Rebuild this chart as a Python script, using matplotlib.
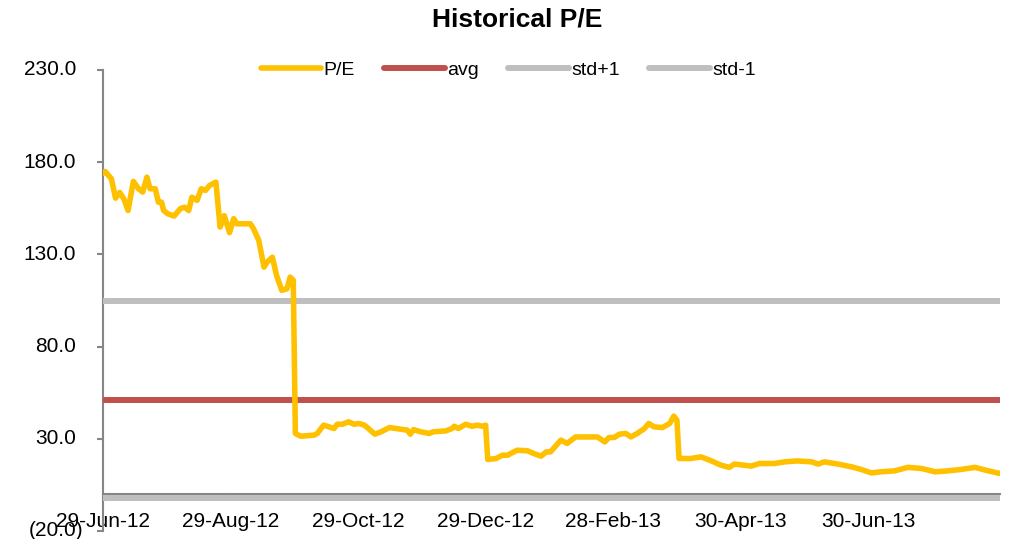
import numpy as np
import pandas as pd
import matplotlib
matplotlib.use("Agg")
import matplotlib.pyplot as plt
import matplotlib.dates as mdates
from matplotlib.transforms import offset_copy

plt.rcParams['font.family'] = ['Liberation Sans', 'DejaVu Sans']

# --- data ---
start_date = "2012-06-29"
end_day = 429

pe_day = [0, 1, 4, 6, 8, 10, 12, 14.5, 17, 19, 21, 22.5, 25, 26.5, 28, 29, 31, 34, 37, 39,
          41, 42.5, 45, 47, 49, 51, 54, 56, 58, 60.5, 62.5, 64, 70.5, 72, 74.5, 77, 78.5, 81,
          83, 85.5, 88, 89.5, 91, 92, 94.5, 101, 102.5, 105.5, 108, 110.5, 112, 114.5, 117.5,
          120, 122.5, 125, 126, 130, 133, 137, 140, 145.5, 147, 148.5, 152, 156, 158, 164,
          167, 168, 170, 173.5, 176.5, 179, 181.5, 183, 184, 188, 191, 193.5, 198, 203, 206,
          209.5, 212, 214, 219, 222, 226, 236.5, 240, 242, 244.5, 247, 250, 252.5, 255.5,
          259, 261, 263.5, 267.5, 271, 273, 274.5, 275.5, 281, 286, 291, 295.5, 299.5, 302,
          310, 314, 321, 326, 332, 339, 342, 345, 351.5, 358, 362.5, 367.5, 372, 378.5, 385,
          391.5, 398, 404, 410.5, 417, 423.5, 429]
pe_val = [174, 175, 171, 160.5, 163.6, 160, 153.8, 169.6, 165.6, 163.8, 171.9, 165.6, 165.6,
          158.3, 158.3, 153.8, 152, 150.8, 154.8, 155.6, 153.8, 161, 159.3, 165.6, 164.7,
          167.4, 169.2, 144.8, 151, 141.8, 149.4, 146.6, 146.6, 143.9, 137.6, 123.1, 125.8,
          128.5, 118.6, 110.5, 111.4, 117.7, 116, 32.9, 31.4, 32, 32.9, 37.4, 36.5, 35.6,
          37.9, 37.9, 39.2, 37.9, 38.3, 37.4, 36.5, 32.5, 33.8, 36.1, 35.6, 34.7, 32.5, 35,
          33.8, 32.9, 33.8, 34.3, 35.6, 36.8, 35.6, 37.9, 36.8, 37.4, 36.8, 37.4, 18.8, 19.3,
          21.1, 21.1, 23.8, 23.5, 22, 20.6, 22.9, 22.9, 29.3, 27.5, 31, 31, 28.3, 30.7, 30.7,
          32.5, 32.9, 31, 32.9, 35.6, 38.3, 36.5, 36.1, 38.3, 42.3, 40.1, 19.3, 19.3, 20.2,
          18, 15.7, 14.5, 16.3, 15.2, 16.6, 16.6, 17.5, 18, 17.5, 16.3, 17.5, 16.3, 14.8,
          13.4, 11.5, 12.1, 12.6, 14.5, 13.9, 12.1, 12.6, 13.4, 14.5, 12.6, 11.2]

avg_pe = 51.3
std_plus1 = 104.5
std_minus1 = -1.9

y_ticks = [-20, 30, 80, 130, 180, 230]

# --- figure ---
t0 = pd.Timestamp(start_date)
pe_dates = t0 + pd.to_timedelta(pe_day, unit="D")
t_end = t0 + pd.Timedelta(days=end_day)
span = [t0, t_end]

fig = plt.figure(figsize=(10.31, 5.39), dpi=100)
ax = fig.add_axes([103 / 1031, 1 - 531 / 539, (1000 - 103) / 1031, (531 - 70) / 539])

lw_ref = 4.3
ax.plot(pe_dates, pe_val, color="#FFC000", lw=4.0, solid_joinstyle="round",
        solid_capstyle="round", label="P/E", zorder=4)
ax.plot(span, [avg_pe] * 2, color="#C0504D", lw=lw_ref, solid_capstyle="round",
        label="avg", zorder=3)
ax.plot(span, [std_plus1] * 2, color="#BFBFBF", lw=lw_ref, solid_capstyle="round",
        label="std+1", zorder=3)
ax.plot(span, [std_minus1] * 2, color="#BFBFBF", lw=lw_ref, solid_capstyle="round",
        label="std-1", zorder=3)

ax.set_xlim(t0, t_end)
ax.set_ylim(-20, 230)

# spines
for s in ("top", "right"):
    ax.spines[s].set_visible(False)
ax.spines["left"].set_color("#868686")
ax.spines["left"].set_linewidth(1.5)
ax.spines["bottom"].set_color("#868686")
ax.spines["bottom"].set_linewidth(1.5)
ax.spines["bottom"].set_position(("data", 0))

# y ticks with Excel style negative in parentheses
ax.set_yticks(y_ticks)
ax.tick_params(axis="y", direction="out", length=4, width=1.5, color="#868686",
               labelleft=False)
ytrans = offset_copy(ax.get_yaxis_transform(), fig=fig, x=-27, y=0, units="dots")
ntrans = offset_copy(ax.get_yaxis_transform(), fig=fig, x=-20, y=0, units="dots")
for v in y_ticks:
    if v < 0:
        ax.text(0, v, f"({abs(v):.1f})", transform=ntrans, ha="right", va="center",
                fontsize=15)
    else:
        ax.text(0, v, f"{v:.1f}", transform=ytrans, ha="right", va="center",
                fontsize=15)

# x ticks every 61 days
x_ticks = pd.date_range(t0, periods=7, freq="61D")
ax.set_xticks(x_ticks)
ax.xaxis.set_major_formatter(mdates.DateFormatter("%d-%b-%y"))
ax.tick_params(axis="x", direction="out", length=4, width=1, color="#868686",
               pad=9, labelsize=15)

leg = ax.legend(loc="center", bbox_to_anchor=(0.452, 1.0), ncol=4, frameon=False,
                fontsize=14, handlelength=3.1, handletextpad=0.15, columnspacing=1.5,
                borderaxespad=0)
for h in leg.get_lines():
    h.set_solid_capstyle("round")

fig.text(0.502, 0.963, "Historical P/E", ha="center", va="center",
         fontsize=19, fontweight="bold")

fig.savefig("out.png", dpi=100)
